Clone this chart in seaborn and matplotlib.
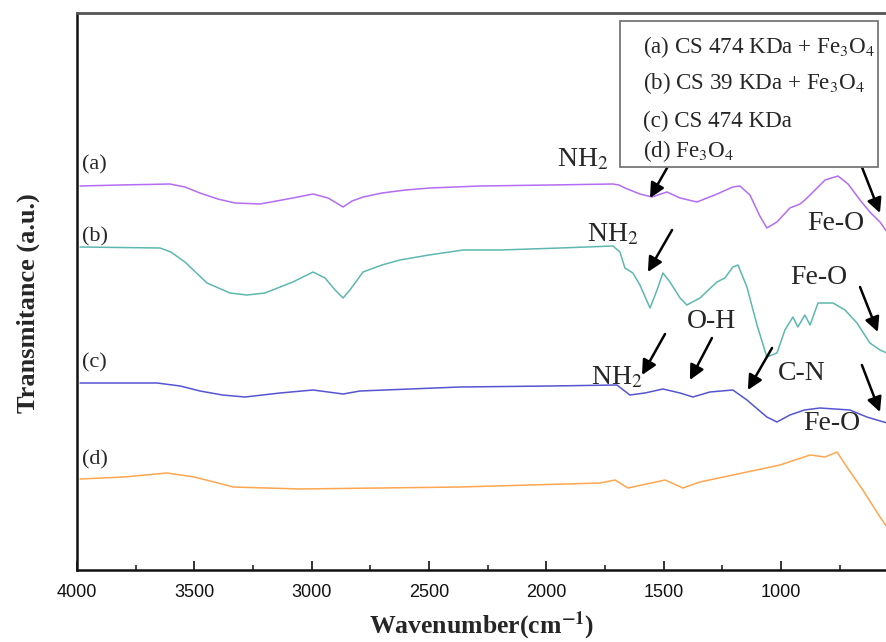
import numpy as np
import pandas as pd
import matplotlib
matplotlib.use("Agg")
import matplotlib.pyplot as plt
from matplotlib.patches import Rectangle
import seaborn as sns

# FTIR spectra: wavenumber (cm^-1) and offset transmittance (a.u.)
wn_a = [3987, 3817, 3604, 3540, 3476, 3400, 3327, 3220, 3150, 3080, 2994, 2930,
        2866, 2828, 2781, 2700, 2600, 2496, 2283, 1984, 1716, 1690, 1665, 1601,
        1550, 1486, 1430, 1358, 1282, 1205, 1175, 1132, 1090, 1060, 1017, 962,
        940, 919, 898, 876, 812, 757, 714, 663, 621, 578, 548]
tr_a = [385, 386, 387, 384, 378, 372, 368, 367, 370, 373, 377, 373,
        364, 370, 374, 378, 381, 383, 385, 386, 387, 386, 383, 377,
        374, 379, 373, 369, 376, 384, 385, 376, 355, 343, 349, 363,
        365, 367, 371, 376, 391, 395, 387, 371, 359, 349, 339]

wn_b = [3987, 3646, 3600, 3540, 3446, 3348, 3276, 3199, 3080, 2994, 2943, 2900,
        2866, 2837, 2781, 2700, 2624, 2500, 2355, 2197, 1941, 1716, 1686, 1665,
        1631, 1601, 1558, 1528, 1503, 1473, 1430, 1401, 1345, 1273, 1239, 1205,
        1183, 1145, 1102, 1060, 1017, 983, 949, 928, 898, 876, 842, 778, 727,
        676, 621, 578, 548]
tr_b = [324, 323, 319, 309, 288, 278, 276, 278, 289, 299, 293, 281,
        273, 281, 299, 306, 311, 316, 321, 321, 323, 325, 319, 303,
        298, 286, 263, 281, 298, 289, 273, 266, 273, 289, 293, 304,
        306, 284, 246, 214, 218, 241, 254, 244, 256, 246, 268, 268, 261,
        248, 228, 221, 218]

wn_c = [3987, 3659, 3560, 3476, 3380, 3284, 3135, 2994, 2866, 2794, 2368, 1984,
        1699, 1644, 1580, 1503, 1430, 1375, 1303, 1205, 1145, 1100, 1060, 1017,
        962, 900, 834, 706, 634, 548]
tr_c = [188, 188, 185, 180, 176, 174, 178, 181, 177, 180, 184, 185,
        186, 176, 178, 182, 178, 174, 179, 181, 171, 162, 154, 149,
        156, 161, 163, 161, 154, 148]

wn_d = [3987, 3800, 3617, 3500, 3400, 3335, 3050, 2368, 1771, 1707, 1652, 1494,
        1418, 1345, 1004, 876, 812, 761, 719, 651, 578, 548]
tr_d = [92, 94, 98, 94, 88, 84, 82, 84, 88, 91, 83, 91,
        83, 89, 106, 116, 114, 119, 104, 81, 54, 44]

series_keys = ["a", "b", "c", "d"]
series_labels = [r"(a) CS 474 KDa + Fe$_3$O$_4$",
                 r"(b) CS 39 KDa + Fe$_3$O$_4$",
                 r"(c) CS 474 KDa",
                 r"(d) Fe$_3$O$_4$"]
series_colors = ["#B46CF5", "#5DB8AE", "#5555D2", "#FFA650"]
curve_tag_y = [406, 334, 208, 111]

frames = []
for key, wn, tr in zip(series_keys, [wn_a, wn_b, wn_c, wn_d], [tr_a, tr_b, tr_c, tr_d]):
    frames.append(pd.DataFrame({"wavenumber": wn, "transmittance": tr, "sample": key}))
df = pd.concat(frames, ignore_index=True)

sns.set_style("ticks")
plt.rcParams["font.family"] = ["Liberation Serif", "DejaVu Serif"]
plt.rcParams["mathtext.fontset"] = "stix"

fig = plt.figure(figsize=(8.87, 6.42), dpi=100)
ax = fig.add_axes([77 / 887, 72 / 642, 810 / 887, 557 / 642])

sns.lineplot(data=df, x="wavenumber", y="transmittance", hue="sample",
             palette=dict(zip(series_keys, series_colors)), sort=False,
             estimator=None, legend=False, linewidth=1.1, ax=ax)

ax.set_xlim(4000, 548)
ax.set_ylim(1, 558)
ax.set_yticks([])
ax.set_xticks([4000, 3500, 3000, 2500, 2000, 1500, 1000])
ax.set_xticks(np.arange(3750, 500, -500), minor=True)
ax.tick_params(axis="x", which="major", direction="in", length=6.5, width=1.2,
               pad=10, labelsize=13, colors="#111111")
ax.tick_params(axis="x", which="minor", direction="in", length=3.5, width=1.2)
for lab in ax.get_xticklabels():
    lab.set_family("Liberation Sans")

for side in ["left", "bottom"]:
    ax.spines[side].set_linewidth(1.8)
    ax.spines[side].set_color("#111111")
ax.spines["top"].set_linewidth(2.0)
ax.spines["top"].set_color("#555555")
ax.spines["right"].set_visible(False)

ax.set_xlabel(r"Wavenumber(cm$^{\mathbf{-1}}$)", fontsize=18.5, fontweight="bold",
              va="baseline")
ax.xaxis.set_label_coords(0.50, -0.114)
ax.set_ylabel("Transmitance (a.u.)", fontsize=19, fontweight="bold")
ax.yaxis.set_label_coords(-0.046, 0.48)

# curve tags on the left
for key, ty in zip(series_keys, curve_tag_y):
    ax.text(3979, ty, f"({key})", fontsize=16, ha="left", va="center")

# band assignments
notes = [
    (r"NH$_2$", (1844, 411), (1447, 419), (1558, 373)),
    ("Fe-O", (766, 348), (655, 404), (578, 358)),
    (r"NH$_2$", (1716, 336), (1464, 341), (1567, 299)),
    ("Fe-O", (838, 294), (663, 284), (587, 239)),
    ("O-H", (1294, 249), (1294, 233), (1388, 191)),
    (r"NH$_2$", (1699, 193), (1494, 237), (1592, 196)),
    ("C-N", (910, 198), (1038, 223), (1141, 181)),
    ("Fe-O", (783, 148), (655, 206), (578, 159)),
]
for label, pos, tail, head in notes:
    ax.text(pos[0], pos[1], label, fontsize=20, ha="center", va="center")
    ax.annotate("", xy=head, xytext=tail,
                arrowprops=dict(arrowstyle="-|>", color="black", lw=1.8,
                                mutation_scale=22, shrinkA=0, shrinkB=0))

# sample key box
ax.add_patch(Rectangle((0.6704, 0.7235), 0.3185, 0.2621, transform=ax.transAxes,
                       facecolor="white", edgecolor="#777777", linewidth=1.3, zorder=5))
key_baselines = [0.9282, 0.8636, 0.7953, 0.7415]
for label, yb in zip(series_labels, key_baselines):
    ax.text(0.6988, yb, label, transform=ax.transAxes, fontsize=16.6,
            ha="left", va="baseline", zorder=6)

fig.savefig("out.png", dpi=100)
